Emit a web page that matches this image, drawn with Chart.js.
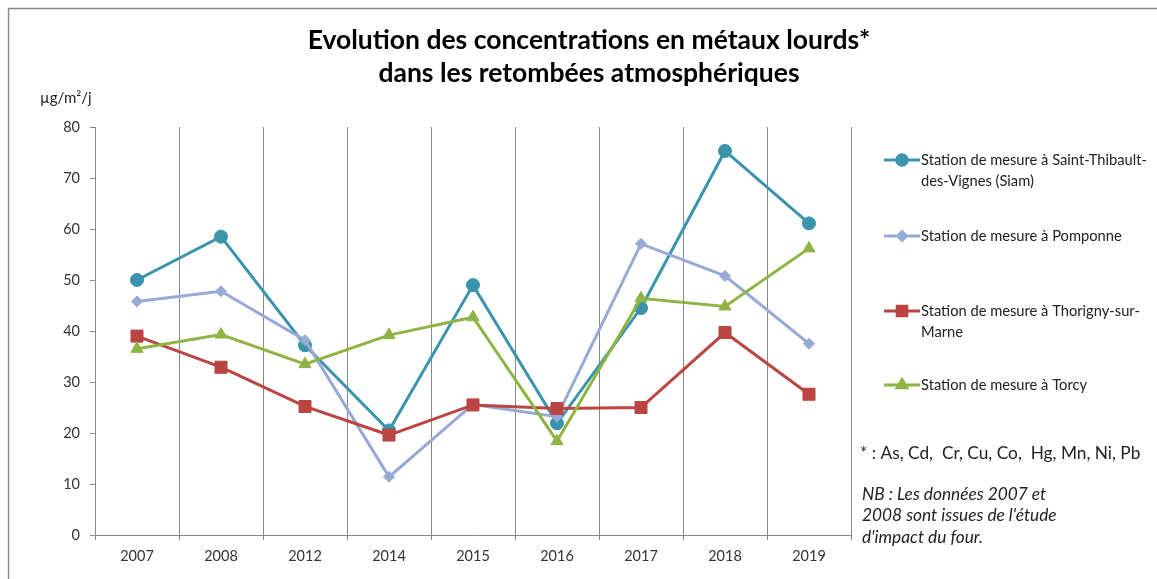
<!DOCTYPE html>
<html>
<head>
<meta charset="utf-8">
<script src="https://cdn.jsdelivr.net/npm/chart.js@4/dist/chart.umd.min.js"></script>
<style>
  html, body { margin: 0; padding: 0; background: #fff; }
  #wrap { width: 1157px; height: 579px; position: relative; }
</style>
</head>
<body>
<div id="wrap"><canvas id="c" width="1157" height="579"></canvas></div>
<script>
// Années de mesure
const years = ['2007', '2008', '2012', '2014', '2015', '2016', '2017', '2018', '2019'];

// Retombées atmosphériques en métaux lourds (µg/m²/j) par station
const siam      = [50.0, 58.5, 37.2, 20.5, 49.0, 21.9, 44.5, 75.3, 61.1];
const pomponne  = [45.8, 47.8, 38.2, 11.4, 25.6, 23.2, 57.1, 50.8, 37.5];
const thorigny  = [39.0, 32.9, 25.2, 19.6, 25.5, 24.8, 25.0, 39.7, 27.6];
const torcy     = [36.5, 39.3, 33.5, 39.2, 42.7, 18.4, 46.4, 44.8, 56.2];

const seriesNames = [
  ['Station de mesure à Saint-Thibault-', 'des-Vignes (Siam)'],
  ['Station de mesure à Pomponne'],
  ['Station de mesure à Thorigny-sur-', 'Marne'],
  ['Station de mesure à Torcy']
];

const yTicks = [0, 10, 20, 30, 40, 50, 60, 70, 80];

const titleLines = ['Evolution des concentrations en métaux lourds*', 'dans les retombées atmosphériques'];
const unitLabel = 'µg/m²/j';
const metalsNote = '* : As, Cd,  Cr, Cu, Co,  Hg, Mn, Ni, Pb';
const nbNote = ['NB : Les données 2007 et', '2008 sont issues de l\'étude', 'd\'impact du four.'];

const FONT = 'Lato, "Open Sans", "Liberation Sans", sans-serif';
const GRID = '#878787';

// Cadre, titre, unité, légende et notes
const decorations = {
  id: 'decorations',
  beforeDraw(chart) {
    const ctx = chart.ctx;
    ctx.save();
    ctx.fillStyle = '#fff';
    ctx.fillRect(0, 0, chart.width, chart.height);
    ctx.strokeStyle = '#8a8a8a';
    ctx.lineWidth = 1.5;
    ctx.beginPath();
    ctx.moveTo(8.5, chart.height);
    ctx.lineTo(8.5, 8.5);
    ctx.lineTo(chart.width, 8.5);
    ctx.stroke();
    ctx.restore();
  },
  afterDraw(chart) {
    const ctx = chart.ctx;
    ctx.save();
    // Titre
    ctx.fillStyle = '#000';
    ctx.textAlign = 'center';
    ctx.textBaseline = 'middle';
    ctx.font = 'bold 26.5px ' + FONT;
    ctx.fillText(titleLines[0], 589, 40);
    ctx.fillText(titleLines[1], 589, 73);

    // Unité de l'axe
    ctx.font = '15px ' + FONT;
    ctx.fillStyle = '#222';
    ctx.textAlign = 'left';
    ctx.fillText(unitLabel, 40, 98);

    // Légende
    const itemY = [160, 236, 311, 385];
    const x0 = 884, x1 = 920;
    chart.data.datasets.forEach((ds, i) => {
      const y = itemY[i];
      ctx.strokeStyle = ds.borderColor;
      ctx.lineWidth = 3;
      ctx.beginPath();
      ctx.moveTo(x0, y);
      ctx.lineTo(x1, y);
      ctx.stroke();
      Chart.helpers.drawPoint(ctx, {
        pointStyle: ds.pointStyle,
        radius: ds.pointRadius * 0.8,
        rotation: 0,
        borderWidth: 1
      }, (x0 + x1) / 2, y);
      ctx.fillStyle = ds.pointBackgroundColor;
      ctx.fill();
      ctx.fillStyle = '#222';
      ctx.font = '14.7px ' + FONT;
      ctx.textAlign = 'left';
      ctx.textBaseline = 'middle';
      seriesNames[i].forEach((t, k) => ctx.fillText(t, x1 + 1, y + k * 21));
    });

    // Notes
    ctx.font = '17.3px ' + FONT;
    ctx.fillText(metalsNote, 860, 453);
    ctx.font = 'italic 17.3px ' + FONT;
    nbNote.forEach((t, k) => ctx.fillText(t, 862, 494 + k * 21.5));
    ctx.restore();
  }
};

function series(label, data, color, style, radius) {
  return {
    label, data,
    borderColor: color,
    backgroundColor: color,
    pointBackgroundColor: color,
    pointBorderColor: color,
    pointStyle: style,
    pointRadius: radius,
    pointHoverRadius: radius,
    pointBorderWidth: 1,
    borderWidth: 3,
    tension: 0,
    clip: false
  };
}

new Chart(document.getElementById('c'), {
  type: 'line',
  data: {
    labels: years,
    datasets: [
      Object.assign(series(seriesNames[0].join(''), siam, '#3a94ab', 'circle', 6.5), { order: 3 }),
      Object.assign(series(seriesNames[1].join(''), pomponne, '#97a9d5', 'rectRot', 5.5), { order: 2 }),
      Object.assign(series(seriesNames[2].join(''), thorigny, '#bb4542', 'rect', 8.5), { order: 1 }),
      Object.assign(series(seriesNames[3].join(''), torcy, '#8fb443', 'triangle', 7), { order: 0 })
    ]
  },
  options: {
    responsive: false,
    animation: false,
    events: [],
    layout: { padding: { top: 127, right: 306, bottom: 4, left: 0 } },
    plugins: {
      legend: { display: false },
      tooltip: { enabled: false },
      title: { display: false }
    },
    scales: {
      x: {
        offset: true,
        grid: {
          offset: true,
          color: GRID,
          lineWidth: 1,
          drawTicks: true,
          tickLength: 5
        },
        border: { color: GRID, width: 1 },
        ticks: {
          color: '#333',
          font: { family: FONT, size: 14.5 },
          padding: 8,
          maxRotation: 0
        },
        afterFit(s) { s.height = 40; }
      },
      y: {
        min: 0,
        max: 80,
        afterBuildTicks(s) { s.ticks = yTicks.map(v => ({ value: v })); },
        grid: {
          drawOnChartArea: false,
          drawTicks: true,
          tickLength: 5,
          color: GRID
        },
        border: { color: GRID, width: 1 },
        ticks: {
          color: '#333',
          font: { family: FONT, size: 14.5 },
          padding: 10
        },
        afterFit(s) { s.width = 95; }
      }
    }
  },
  plugins: [decorations]
});
</script>
</body>
</html>
